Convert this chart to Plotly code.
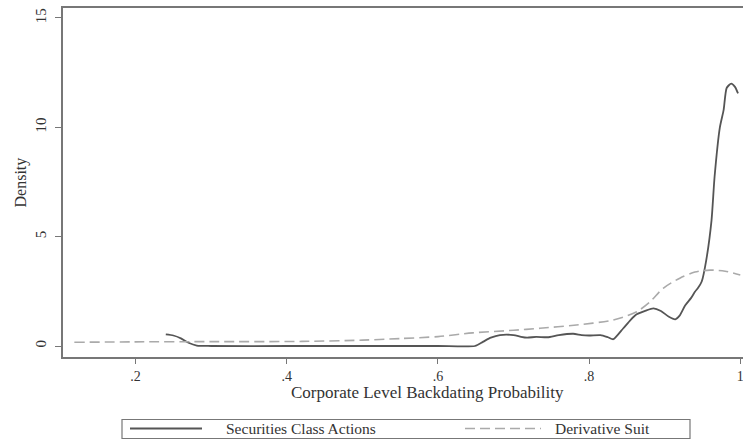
import plotly.graph_objects as go

# Securities Class Actions (solid)
sca_x = [0.240, 0.250, 0.260, 0.270, 0.281, 0.300, 0.400, 0.500, 0.600, 0.649,
         0.660, 0.670, 0.682, 0.700, 0.710, 0.718, 0.730, 0.745, 0.760, 0.779,
         0.790, 0.800, 0.815, 0.825, 0.832, 0.845, 0.855, 0.863, 0.875, 0.885,
         0.895, 0.905, 0.914, 0.920, 0.927, 0.935, 0.940, 0.944, 0.949, 0.955,
         0.962, 0.966, 0.973, 0.978, 0.982, 0.988, 0.993, 0.997]
sca_y = [0.53, 0.48, 0.35, 0.15, 0.02, 0.0, 0.0, 0.0, 0.0, 0.0,
         0.20, 0.38, 0.50, 0.50, 0.42, 0.38, 0.42, 0.40, 0.50, 0.56,
         0.50, 0.48, 0.50, 0.40, 0.31, 0.80, 1.20, 1.45, 1.62, 1.72,
         1.60, 1.35, 1.22, 1.40, 1.85, 2.20, 2.48, 2.65, 2.95, 3.93,
         5.76, 7.74, 10.0, 10.8, 11.8, 12.0, 11.85, 11.55]

# Derivative Suit (dashed)
ds_x = [0.119, 0.200, 0.300, 0.420, 0.500, 0.550, 0.600, 0.646, 0.700, 0.735,
        0.780, 0.832, 0.863, 0.880, 0.898, 0.920, 0.940, 0.960, 0.980, 1.000]
ds_y = [0.17, 0.19, 0.20, 0.21, 0.27, 0.34, 0.43, 0.60, 0.72, 0.81,
        0.95, 1.19, 1.57, 2.00, 2.64, 3.10, 3.38, 3.47, 3.42, 3.25]

x_ticks = [0.2, 0.4, 0.6, 0.8, 1.0]
x_labels = [".2", ".4", ".6", ".8", "1"]
y_ticks = [0, 5, 10, 15]
y_labels = ["0", "5", "10", "15"]

series_names = ["Securities Class Actions", "Derivative Suit"]

FONT = "Liberation Serif"
TXT = "#333333"
AX = "#777777"

W, H = 743, 440
L, R, T, B = 63, 0, 8, 83
PW, PH = W - L - R, H - T - B


def px_x(p):
    return (p - L) / PW


def px_y(p):
    return (H - B - p) / PH


fig = go.Figure()
fig.add_trace(go.Scatter(x=sca_x, y=sca_y, mode="lines", name=series_names[0],
                         line=dict(color="#555555", width=1.8, shape="spline", smoothing=0.6),
                         showlegend=False))
fig.add_trace(go.Scatter(x=ds_x, y=ds_y, mode="lines", name=series_names[1],
                         line=dict(color="#aaaaaa", width=1.6, dash="10px,5px", shape="spline", smoothing=0.8),
                         showlegend=False))

fig.update_layout(
    width=W, height=H,
    margin=dict(l=L, r=R, t=T, b=B, autoexpand=False),
    paper_bgcolor="white", plot_bgcolor="white",
    font=dict(family=FONT, color=TXT, size=15),
    xaxis=dict(range=[0.104, 1.0036], tickvals=x_ticks, ticktext=x_labels,
               showgrid=False, zeroline=False, showline=True, mirror=True,
               linecolor=AX, linewidth=1.5, ticks="outside", ticklen=5,
               tickcolor=AX, tickwidth=1.2, automargin=False, ticklabeloverflow="allow",
               tickfont=dict(size=14, family=FONT, color=TXT)),
    yaxis=dict(range=[-0.503, 15.457], tickvals=y_ticks, ticktext=y_labels,
               showgrid=False, zeroline=False, showline=True, mirror=False,
               linecolor=AX, linewidth=1.5, ticks="outside", ticklen=6,
               tickcolor=AX, tickwidth=1.2, tickangle=-90, automargin=False,
               ticklabelstandoff=3, ticklabeloverflow="allow",
               tickfont=dict(size=15, family=FONT, color=TXT)),
)

annotations = [
    dict(text="Corporate Level Backdating Probability", x=px_x(427.5), y=px_y(392),
         xref="paper", yref="paper", showarrow=False, xanchor="center", yanchor="middle",
         font=dict(size=17, family=FONT, color=TXT)),
    dict(text="Density", x=px_x(20), y=px_y(182.5), textangle=-90,
         xref="paper", yref="paper", showarrow=False, xanchor="center", yanchor="middle",
         font=dict(size=16, family=FONT, color=TXT)),
    dict(text=series_names[0], x=px_x(224), y=px_y(428.5),
         xref="paper", yref="paper", showarrow=False, xanchor="left", yanchor="middle",
         font=dict(size=15.5, family=FONT, color=TXT)),
    dict(text=series_names[1], x=px_x(553), y=px_y(428.5),
         xref="paper", yref="paper", showarrow=False, xanchor="left", yanchor="middle",
         font=dict(size=15.5, family=FONT, color=TXT)),
]
fig.update_layout(annotations=annotations)

shapes = [
    dict(type="rect", xref="paper", yref="paper", x0=px_x(122), x1=px_x(690),
         y0=px_y(419.5), y1=px_y(438.5), line=dict(color=AX, width=1.2), fillcolor="rgba(0,0,0,0)"),
    dict(type="line", xref="paper", yref="paper", x0=px_x(130), x1=px_x(202),
         y0=px_y(428.5), y1=px_y(428.5), line=dict(color="#555555", width=1.8)),
    dict(type="line", xref="paper", yref="paper", x0=px_x(465), x1=px_x(541),
         y0=px_y(428.5), y1=px_y(428.5), line=dict(color="#aaaaaa", width=1.6, dash="10px,5px")),
]
fig.update_layout(shapes=shapes)

fig.write_html("out.html", config={"displayModeBar": False},
               post_script="document.body.style.margin='0';document.body.style.overflow='hidden';")
